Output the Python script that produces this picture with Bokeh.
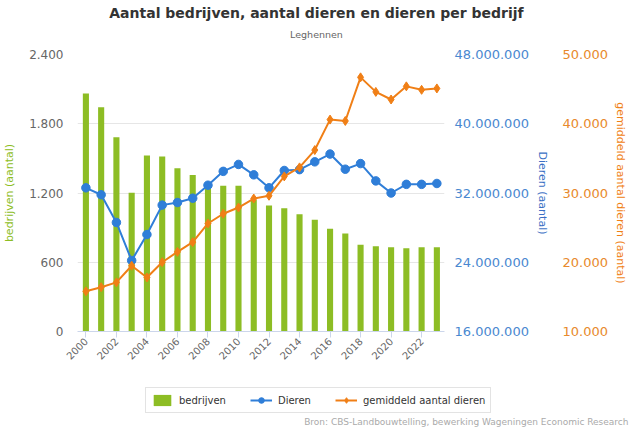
from bokeh.plotting import figure
from bokeh.layouts import column
from bokeh.models import (Range1d, LinearAxis, FixedTicker, CustomJSTickFormatter,
                          Legend, LegendItem, Label, ColumnDataSource)
from bokeh.embed import file_html
from bokeh.resources import INLINE
from math import pi

years = list(range(2000, 2024))
bedrijven = [2062, 1943, 1683, 1202, 1525, 1516, 1415, 1357, 1270, 1262, 1262, 1140,
             1092, 1068, 1016, 968, 890, 849, 751, 739, 730, 722, 730, 730]
dieren = [32.6e6, 31.8e6, 28.6e6, 24.2e6, 27.2e6, 30.6e6, 30.9e6, 31.4e6, 32.9e6, 34.5e6,
          35.3e6, 34.1e6, 32.6e6, 34.6e6, 34.7e6, 35.6e6, 36.5e6, 34.75e6, 35.4e6, 33.4e6,
          32.0e6, 33.0e6, 33.0e6, 33.1e6]
gemiddeld = [15800, 16400, 17100, 19500, 17800, 20000, 21500, 22900, 25600, 27000,
             27900, 29200, 29600, 32400, 33700, 36200, 40600, 40400, 46700, 44600,
             43500, 45400, 44900, 45100]

left_ticks = [0, 600, 1200, 1800, 2400]
dieren_ticks = [16e6, 24e6, 32e6, 40e6, 48e6]
gem_ticks = [10000, 20000, 30000, 40000, 50000]
year_ticks = list(range(2000, 2024, 2))

GREEN = "#8dbd24"
BLUE = "#2f7ed8"
ORANGE = "#f07f16"
FONT = "DejaVu Sans"
W = 631

src = ColumnDataSource(dict(year=years, bedrijven=bedrijven, dieren=dieren, gem=gemiddeld))


def no_align(f):
    try:
        f.frame_align = False
    except Exception:
        pass


def strip(height):
    f = figure(width=W, height=height, output_backend="svg", toolbar_location=None,
               x_range=Range1d(0, 1), y_range=Range1d(0, 1),
               x_axis_location=None, y_axis_location=None, min_border=0)
    f.outline_line_color = None
    f.grid.grid_line_color = None
    no_align(f)
    return f


# ---- title strip ----
top = strip(46)
top.add_layout(Label(x=316, y=34, x_units="screen", y_units="screen",
                     text="Aantal bedrijven, aantal dieren en dieren per bedrijf",
                     text_font=FONT, text_font_size="14px", text_font_style="bold",
                     text_color="#333333", text_align="center", text_baseline="middle"))
top.add_layout(Label(x=316, y=12, x_units="screen", y_units="screen", text="Leghennen",
                     text_font=FONT, text_font_size="9.5px", text_color="#666666",
                     text_align="center", text_baseline="middle"))

# ---- main chart ----
p = figure(frame_width=367, frame_height=277, output_backend="svg", toolbar_location=None,
           x_range=Range1d(1999.45, 2023.5), y_range=Range1d(0, 2400),
           min_border_left=76, min_border_right=188, min_border_top=8, min_border_bottom=45)
p.outline_line_color = None
no_align(p)
p.extra_y_ranges = {"dieren": Range1d(16e6, 48e6), "gem": Range1d(10000, 50000)}

fmt = CustomJSTickFormatter(code="return Math.round(tick).toString().replace(/\\B(?=(\\d{3})+(?!\\d))/g, '.');")

ya = p.yaxis[0]
ya.ticker = FixedTicker(ticks=left_ticks)
ya.formatter = fmt
ya.axis_line_color = None
ya.major_tick_line_color = None
ya.minor_tick_line_color = None
ya.major_tick_out = 0
ya.minor_tick_out = 0
ya.major_label_standoff = 14
ya.major_label_text_font = FONT
ya.major_label_text_font_size = "12px"
ya.major_label_text_color = "#666666"
ya.axis_label = "bedrijven (aantal)"
ya.axis_label_text_color = GREEN
ya.axis_label_text_font = FONT
ya.axis_label_text_font_size = "11px"
ya.axis_label_text_font_style = "normal"
ya.axis_label_standoff = 10

ax_d = LinearAxis(y_range_name="dieren", ticker=FixedTicker(ticks=dieren_ticks), formatter=fmt,
                  axis_label="Dieren (aantal)")
ax_g = LinearAxis(y_range_name="gem", ticker=FixedTicker(ticks=gem_ticks), formatter=fmt,
                  axis_label="gemiddeld aantal dieren (aantal)")
for ax, col, lcol, so, lso in [(ax_d, "#4a88d0", "#3a6fc4", 10, 4), (ax_g, "#e88a2c", ORANGE, 11, 3)]:
    ax.axis_line_color = None
    ax.major_tick_line_color = None
    ax.minor_tick_line_color = None
    ax.major_tick_out = 0
    ax.minor_tick_out = 0
    ax.major_label_standoff = so
    ax.major_label_text_font = FONT
    ax.major_label_text_font_size = "13px"
    ax.major_label_text_color = col
    ax.axis_label_text_color = lcol
    ax.axis_label_text_font = FONT
    ax.axis_label_text_font_size = "11px"
    ax.axis_label_text_font_style = "normal"
    ax.axis_label_standoff = lso
p.add_layout(ax_d, "right")
p.add_layout(ax_g, "right")

xa = p.xaxis[0]
xa.ticker = FixedTicker(ticks=year_ticks)
xa.major_label_orientation = pi / 4
xa.axis_line_color = "#ccd6eb"
xa.major_tick_line_color = "#ccd6eb"
xa.major_tick_out = 6
xa.major_tick_in = 0
xa.minor_tick_line_color = None
xa.minor_tick_out = 0
xa.major_label_standoff = 2
xa.major_label_text_font = FONT
xa.major_label_text_font_size = "10px"
xa.major_label_text_color = "#666666"

p.xgrid.grid_line_color = None
p.ygrid.grid_line_color = "#e6e6e6"
p.ygrid.ticker = FixedTicker(ticks=left_ticks)

p.vbar(x="year", top="bedrijven", width=0.4, source=src, fill_color=GREEN, line_color=None)
p.line(x="year", y="dieren", source=src, y_range_name="dieren", line_color=BLUE, line_width=2)
p.scatter(x="year", y="dieren", source=src, y_range_name="dieren", marker="circle", size=8.5,
          fill_color=BLUE, line_color=BLUE)
p.line(x="year", y="gem", source=src, y_range_name="gem", line_color=ORANGE, line_width=2)
p.scatter(x="year", y="gem", source=src, y_range_name="gem", marker="diamond", size=9,
          fill_color=ORANGE, line_color=ORANGE)

# ---- legend + source strip (legend-only renderers of the same series, hidden) ----
bot = strip(52)
lb = bot.vbar(x="year", top="bedrijven", width=0.4, source=src, fill_color=GREEN, line_color=None,
              visible=False)
ll1 = bot.line(x="year", y="dieren", source=src, line_color=BLUE, line_width=2, visible=False)
ls1 = bot.scatter(x="year", y="dieren", source=src, marker="circle", size=8.5,
                  fill_color=BLUE, line_color=BLUE, visible=False)
ll2 = bot.line(x="year", y="gem", source=src, line_color=ORANGE, line_width=2, visible=False)
ls2 = bot.scatter(x="year", y="gem", source=src, marker="diamond", size=9,
                  fill_color=ORANGE, line_color=ORANGE, visible=False)

legend = Legend(items=[LegendItem(label="bedrijven", renderers=[lb]),
                       LegendItem(label="Dieren", renderers=[ll1, ls1]),
                       LegendItem(label="gemiddeld aantal dieren", renderers=[ll2, ls2])],
                orientation="horizontal", location=(145, 15))
legend.label_text_font = FONT
legend.label_text_font_size = "10px"
legend.label_text_color = "#333333"
legend.border_line_color = "#c8c8c8"
legend.border_line_width = 1
legend.background_fill_alpha = 1
legend.inactive_fill_alpha = 0
legend.glyph_width = 22
legend.glyph_height = 14
legend.spacing = 24
legend.padding = 5
legend.margin = 0
legend.label_standoff = 6
bot.add_layout(legend, "center")

bot.add_layout(Label(x=628, y=7, x_units="screen", y_units="screen",
                     text="Bron: CBS-Landbouwtelling, bewerking Wageningen Economic Research",
                     text_font=FONT, text_font_size="9px", text_color="#aaaaaa",
                     text_align="right", text_baseline="middle"))

layout = column(top, p, bot, spacing=0)
open("out.html", "w").write(file_html(layout, INLINE))
